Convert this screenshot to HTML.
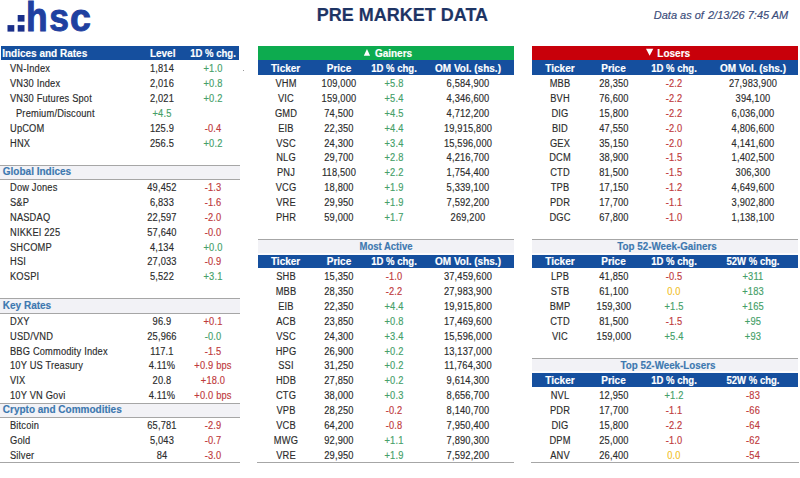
<!DOCTYPE html>
<html><head><meta charset="utf-8"><style>
html,body{margin:0;padding:0;background:#fff;}
body{width:800px;height:478px;position:relative;overflow:hidden;font-family:"Liberation Sans",sans-serif;}
body>div{position:absolute;}
.t{white-space:pre;line-height:20px;height:20px;-webkit-text-stroke:0.15px currentColor;}
</style></head><body>
<svg style="position:absolute;left:0;top:0" width="100" height="36" viewBox="0 0 100 36"><rect x="7.5" y="25.1" width="6.8" height="6.5" fill="#1a2f8a"/><rect x="17.7" y="25.1" width="6.8" height="6.5" fill="#1a2f8a"/><rect x="17.7" y="15.0" width="6.8" height="6.6" fill="#1a2f8a"/><text transform="translate(26.12 31.0) scale(0.878 1)" font-family="Liberation Sans" font-weight="bold" font-size="40.3" fill="#1f40a0" stroke="#1f40a0" stroke-width="1.0">h</text><text transform="translate(49.16 31.0) scale(0.88 0.955)" font-family="Liberation Sans" font-weight="bold" font-size="40.3" fill="#1f40a0" stroke="#1f40a0" stroke-width="1.0">s</text><text transform="translate(69.94 31.0) scale(0.93 0.955)" font-family="Liberation Sans" font-weight="bold" font-size="40.3" fill="#1f40a0" stroke="#1f40a0" stroke-width="1.0">c</text></svg>
<div style="left:1.30px;top:45.60px;width:237.50px;height:14.20px;background:#154f9e"></div>
<div class="t" style="left:2.20px;top:44.12px;width:200px;text-align:left;font-size:10px;color:#ffffff;font-weight:bold;">Indices and Rates</div>
<div class="t" style="left:62.70px;top:44.12px;width:200px;text-align:center;font-size:10px;color:#ffffff;font-weight:bold;">Level</div>
<div class="t" style="left:112.80px;top:44.12px;width:200px;text-align:center;font-size:10px;color:#ffffff;font-weight:bold;transform:scaleX(0.955);transform-origin:50% 0;">1D % chg.</div>
<div class="t" style="left:9.60px;top:59.28px;width:200px;text-align:left;font-size:10px;color:#2c2c2c;transform:scaleX(0.93);transform-origin:0 0;letter-spacing:0.18px;">VN-Index</div>
<div class="t" style="left:62.30px;top:59.28px;width:200px;text-align:center;font-size:10px;color:#2c2c2c;transform:scaleX(0.93);transform-origin:50% 0;letter-spacing:0.18px;">1,814</div>
<div class="t" style="left:113.00px;top:59.28px;width:200px;text-align:center;font-size:10px;color:#45a068;transform:scaleX(0.93);transform-origin:50% 0;letter-spacing:0.18px;">+1.0</div>
<div class="t" style="left:9.60px;top:74.14px;width:200px;text-align:left;font-size:10px;color:#2c2c2c;transform:scaleX(0.93);transform-origin:0 0;letter-spacing:0.18px;">VN30 Index</div>
<div class="t" style="left:62.30px;top:74.14px;width:200px;text-align:center;font-size:10px;color:#2c2c2c;transform:scaleX(0.93);transform-origin:50% 0;letter-spacing:0.18px;">2,016</div>
<div class="t" style="left:113.00px;top:74.14px;width:200px;text-align:center;font-size:10px;color:#45a068;transform:scaleX(0.93);transform-origin:50% 0;letter-spacing:0.18px;">+0.8</div>
<div class="t" style="left:9.60px;top:88.99px;width:200px;text-align:left;font-size:10px;color:#2c2c2c;transform:scaleX(0.93);transform-origin:0 0;letter-spacing:0.18px;">VN30 Futures Spot</div>
<div class="t" style="left:62.30px;top:88.99px;width:200px;text-align:center;font-size:10px;color:#2c2c2c;transform:scaleX(0.93);transform-origin:50% 0;letter-spacing:0.18px;">2,021</div>
<div class="t" style="left:113.00px;top:88.99px;width:200px;text-align:center;font-size:10px;color:#45a068;transform:scaleX(0.93);transform-origin:50% 0;letter-spacing:0.18px;">+0.2</div>
<div class="t" style="left:16.10px;top:103.85px;width:200px;text-align:left;font-size:10px;color:#2c2c2c;transform:scaleX(0.93);transform-origin:0 0;letter-spacing:0.18px;">Premium/Discount</div>
<div class="t" style="left:62.30px;top:103.85px;width:200px;text-align:center;font-size:10px;color:#45a068;transform:scaleX(0.93);transform-origin:50% 0;letter-spacing:0.18px;">+4.5</div>
<div class="t" style="left:9.60px;top:118.70px;width:200px;text-align:left;font-size:10px;color:#2c2c2c;transform:scaleX(0.93);transform-origin:0 0;letter-spacing:0.18px;">UpCOM</div>
<div class="t" style="left:62.30px;top:118.70px;width:200px;text-align:center;font-size:10px;color:#2c2c2c;transform:scaleX(0.93);transform-origin:50% 0;letter-spacing:0.18px;">125.9</div>
<div class="t" style="left:113.00px;top:118.70px;width:200px;text-align:center;font-size:10px;color:#c03a3c;transform:scaleX(0.93);transform-origin:50% 0;letter-spacing:0.18px;">-0.4</div>
<div class="t" style="left:9.60px;top:133.56px;width:200px;text-align:left;font-size:10px;color:#2c2c2c;transform:scaleX(0.93);transform-origin:0 0;letter-spacing:0.18px;">HNX</div>
<div class="t" style="left:62.30px;top:133.56px;width:200px;text-align:center;font-size:10px;color:#2c2c2c;transform:scaleX(0.93);transform-origin:50% 0;letter-spacing:0.18px;">256.5</div>
<div class="t" style="left:113.00px;top:133.56px;width:200px;text-align:center;font-size:10px;color:#45a068;transform:scaleX(0.93);transform-origin:50% 0;letter-spacing:0.18px;">+0.2</div>
<div style="left:0.00px;top:164.80px;width:239.80px;height:15.50px;background:#f2f2f6"></div>
<div style="left:0.00px;top:164.80px;width:239.80px;height:1.00px;background:#a6a6a6"></div>
<div style="left:0.00px;top:179.30px;width:239.80px;height:1.00px;background:#a6a6a6"></div>
<div class="t" style="left:2.80px;top:162.07px;width:200px;text-align:left;font-size:10px;color:#3d78b0;font-weight:bold;">Global Indices</div>
<div class="t" style="left:9.60px;top:178.13px;width:200px;text-align:left;font-size:10px;color:#2c2c2c;transform:scaleX(0.93);transform-origin:0 0;letter-spacing:0.18px;">Dow Jones</div>
<div class="t" style="left:62.30px;top:178.13px;width:200px;text-align:center;font-size:10px;color:#2c2c2c;transform:scaleX(0.93);transform-origin:50% 0;letter-spacing:0.18px;">49,452</div>
<div class="t" style="left:113.00px;top:178.13px;width:200px;text-align:center;font-size:10px;color:#c03a3c;transform:scaleX(0.93);transform-origin:50% 0;letter-spacing:0.18px;">-1.3</div>
<div class="t" style="left:9.60px;top:192.98px;width:200px;text-align:left;font-size:10px;color:#2c2c2c;transform:scaleX(0.93);transform-origin:0 0;letter-spacing:0.18px;">S&amp;P</div>
<div class="t" style="left:62.30px;top:192.98px;width:200px;text-align:center;font-size:10px;color:#2c2c2c;transform:scaleX(0.93);transform-origin:50% 0;letter-spacing:0.18px;">6,833</div>
<div class="t" style="left:113.00px;top:192.98px;width:200px;text-align:center;font-size:10px;color:#c03a3c;transform:scaleX(0.93);transform-origin:50% 0;letter-spacing:0.18px;">-1.6</div>
<div class="t" style="left:9.60px;top:207.84px;width:200px;text-align:left;font-size:10px;color:#2c2c2c;transform:scaleX(0.93);transform-origin:0 0;letter-spacing:0.18px;">NASDAQ</div>
<div class="t" style="left:62.30px;top:207.84px;width:200px;text-align:center;font-size:10px;color:#2c2c2c;transform:scaleX(0.93);transform-origin:50% 0;letter-spacing:0.18px;">22,597</div>
<div class="t" style="left:113.00px;top:207.84px;width:200px;text-align:center;font-size:10px;color:#c03a3c;transform:scaleX(0.93);transform-origin:50% 0;letter-spacing:0.18px;">-2.0</div>
<div class="t" style="left:9.60px;top:222.69px;width:200px;text-align:left;font-size:10px;color:#2c2c2c;transform:scaleX(0.93);transform-origin:0 0;letter-spacing:0.18px;">NIKKEI 225</div>
<div class="t" style="left:62.30px;top:222.69px;width:200px;text-align:center;font-size:10px;color:#2c2c2c;transform:scaleX(0.93);transform-origin:50% 0;letter-spacing:0.18px;">57,640</div>
<div class="t" style="left:113.00px;top:222.69px;width:200px;text-align:center;font-size:10px;color:#c03a3c;transform:scaleX(0.93);transform-origin:50% 0;letter-spacing:0.18px;">-0.0</div>
<div class="t" style="left:9.60px;top:237.55px;width:200px;text-align:left;font-size:10px;color:#2c2c2c;transform:scaleX(0.93);transform-origin:0 0;letter-spacing:0.18px;">SHCOMP</div>
<div class="t" style="left:62.30px;top:237.55px;width:200px;text-align:center;font-size:10px;color:#2c2c2c;transform:scaleX(0.93);transform-origin:50% 0;letter-spacing:0.18px;">4,134</div>
<div class="t" style="left:113.00px;top:237.55px;width:200px;text-align:center;font-size:10px;color:#45a068;transform:scaleX(0.93);transform-origin:50% 0;letter-spacing:0.18px;">+0.0</div>
<div class="t" style="left:9.60px;top:252.41px;width:200px;text-align:left;font-size:10px;color:#2c2c2c;transform:scaleX(0.93);transform-origin:0 0;letter-spacing:0.18px;">HSI</div>
<div class="t" style="left:62.30px;top:252.41px;width:200px;text-align:center;font-size:10px;color:#2c2c2c;transform:scaleX(0.93);transform-origin:50% 0;letter-spacing:0.18px;">27,033</div>
<div class="t" style="left:113.00px;top:252.41px;width:200px;text-align:center;font-size:10px;color:#c03a3c;transform:scaleX(0.93);transform-origin:50% 0;letter-spacing:0.18px;">-0.9</div>
<div class="t" style="left:9.60px;top:267.26px;width:200px;text-align:left;font-size:10px;color:#2c2c2c;transform:scaleX(0.93);transform-origin:0 0;letter-spacing:0.18px;">KOSPI</div>
<div class="t" style="left:62.30px;top:267.26px;width:200px;text-align:center;font-size:10px;color:#2c2c2c;transform:scaleX(0.93);transform-origin:50% 0;letter-spacing:0.18px;">5,522</div>
<div class="t" style="left:113.00px;top:267.26px;width:200px;text-align:center;font-size:10px;color:#45a068;transform:scaleX(0.93);transform-origin:50% 0;letter-spacing:0.18px;">+3.1</div>
<div style="left:0.00px;top:298.00px;width:239.80px;height:16.00px;background:#f2f2f6"></div>
<div style="left:0.00px;top:298.00px;width:239.80px;height:1.00px;background:#a6a6a6"></div>
<div style="left:0.00px;top:313.00px;width:239.80px;height:1.00px;background:#a6a6a6"></div>
<div class="t" style="left:2.80px;top:295.78px;width:200px;text-align:left;font-size:10px;color:#3d78b0;font-weight:bold;">Key Rates</div>
<div class="t" style="left:9.60px;top:311.83px;width:200px;text-align:left;font-size:10px;color:#2c2c2c;transform:scaleX(0.93);transform-origin:0 0;letter-spacing:0.18px;">DXY</div>
<div class="t" style="left:62.30px;top:311.83px;width:200px;text-align:center;font-size:10px;color:#2c2c2c;transform:scaleX(0.93);transform-origin:50% 0;letter-spacing:0.18px;">96.9</div>
<div class="t" style="left:113.00px;top:311.83px;width:200px;text-align:center;font-size:10px;color:#c03a3c;transform:scaleX(0.93);transform-origin:50% 0;letter-spacing:0.18px;">+0.1</div>
<div class="t" style="left:9.60px;top:326.69px;width:200px;text-align:left;font-size:10px;color:#2c2c2c;transform:scaleX(0.93);transform-origin:0 0;letter-spacing:0.18px;">USD/VND</div>
<div class="t" style="left:62.30px;top:326.69px;width:200px;text-align:center;font-size:10px;color:#2c2c2c;transform:scaleX(0.93);transform-origin:50% 0;letter-spacing:0.18px;">25,966</div>
<div class="t" style="left:113.00px;top:326.69px;width:200px;text-align:center;font-size:10px;color:#45a068;transform:scaleX(0.93);transform-origin:50% 0;letter-spacing:0.18px;">-0.0</div>
<div class="t" style="left:9.60px;top:341.54px;width:200px;text-align:left;font-size:10px;color:#2c2c2c;transform:scaleX(0.93);transform-origin:0 0;letter-spacing:0.18px;">BBG Commodity Index</div>
<div class="t" style="left:62.30px;top:341.54px;width:200px;text-align:center;font-size:10px;color:#2c2c2c;transform:scaleX(0.93);transform-origin:50% 0;letter-spacing:0.18px;">117.1</div>
<div class="t" style="left:113.00px;top:341.54px;width:200px;text-align:center;font-size:10px;color:#c03a3c;transform:scaleX(0.93);transform-origin:50% 0;letter-spacing:0.18px;">-1.5</div>
<div class="t" style="left:9.60px;top:356.40px;width:200px;text-align:left;font-size:10px;color:#2c2c2c;transform:scaleX(0.93);transform-origin:0 0;letter-spacing:0.18px;">10Y US Treasury</div>
<div class="t" style="left:62.30px;top:356.40px;width:200px;text-align:center;font-size:10px;color:#2c2c2c;transform:scaleX(0.93);transform-origin:50% 0;letter-spacing:0.18px;">4.11%</div>
<div class="t" style="left:113.00px;top:356.40px;width:200px;text-align:center;font-size:10px;color:#c03a3c;transform:scaleX(0.93);transform-origin:50% 0;letter-spacing:0.18px;">+0.9 bps</div>
<div class="t" style="left:9.60px;top:371.25px;width:200px;text-align:left;font-size:10px;color:#2c2c2c;transform:scaleX(0.93);transform-origin:0 0;letter-spacing:0.18px;">VIX</div>
<div class="t" style="left:62.30px;top:371.25px;width:200px;text-align:center;font-size:10px;color:#2c2c2c;transform:scaleX(0.93);transform-origin:50% 0;letter-spacing:0.18px;">20.8</div>
<div class="t" style="left:113.00px;top:371.25px;width:200px;text-align:center;font-size:10px;color:#c03a3c;transform:scaleX(0.93);transform-origin:50% 0;letter-spacing:0.18px;">+18.0</div>
<div class="t" style="left:9.60px;top:386.11px;width:200px;text-align:left;font-size:10px;color:#2c2c2c;transform:scaleX(0.93);transform-origin:0 0;letter-spacing:0.18px;">10Y VN Govi</div>
<div class="t" style="left:62.30px;top:386.11px;width:200px;text-align:center;font-size:10px;color:#2c2c2c;transform:scaleX(0.93);transform-origin:50% 0;letter-spacing:0.18px;">4.11%</div>
<div class="t" style="left:113.00px;top:386.11px;width:200px;text-align:center;font-size:10px;color:#c03a3c;transform:scaleX(0.93);transform-origin:50% 0;letter-spacing:0.18px;">+0.0 bps</div>
<div style="left:0.00px;top:402.50px;width:239.80px;height:15.60px;background:#f2f2f6"></div>
<div style="left:0.00px;top:402.50px;width:239.80px;height:1.00px;background:#a6a6a6"></div>
<div style="left:0.00px;top:417.10px;width:239.80px;height:1.00px;background:#a6a6a6"></div>
<div class="t" style="left:2.80px;top:399.77px;width:200px;text-align:left;font-size:10px;color:#3d78b0;font-weight:bold;">Crypto and Commodities</div>
<div class="t" style="left:9.60px;top:415.82px;width:200px;text-align:left;font-size:10px;color:#2c2c2c;transform:scaleX(0.93);transform-origin:0 0;letter-spacing:0.18px;">Bitcoin</div>
<div class="t" style="left:62.30px;top:415.82px;width:200px;text-align:center;font-size:10px;color:#2c2c2c;transform:scaleX(0.93);transform-origin:50% 0;letter-spacing:0.18px;">65,781</div>
<div class="t" style="left:113.00px;top:415.82px;width:200px;text-align:center;font-size:10px;color:#c03a3c;transform:scaleX(0.93);transform-origin:50% 0;letter-spacing:0.18px;">-2.9</div>
<div class="t" style="left:9.60px;top:430.68px;width:200px;text-align:left;font-size:10px;color:#2c2c2c;transform:scaleX(0.93);transform-origin:0 0;letter-spacing:0.18px;">Gold</div>
<div class="t" style="left:62.30px;top:430.68px;width:200px;text-align:center;font-size:10px;color:#2c2c2c;transform:scaleX(0.93);transform-origin:50% 0;letter-spacing:0.18px;">5,043</div>
<div class="t" style="left:113.00px;top:430.68px;width:200px;text-align:center;font-size:10px;color:#c03a3c;transform:scaleX(0.93);transform-origin:50% 0;letter-spacing:0.18px;">-0.7</div>
<div class="t" style="left:9.60px;top:445.53px;width:200px;text-align:left;font-size:10px;color:#2c2c2c;transform:scaleX(0.93);transform-origin:0 0;letter-spacing:0.18px;">Silver</div>
<div class="t" style="left:62.30px;top:445.53px;width:200px;text-align:center;font-size:10px;color:#2c2c2c;transform:scaleX(0.93);transform-origin:50% 0;letter-spacing:0.18px;">84</div>
<div class="t" style="left:113.00px;top:445.53px;width:200px;text-align:center;font-size:10px;color:#c03a3c;transform:scaleX(0.93);transform-origin:50% 0;letter-spacing:0.18px;">-3.0</div>
<div style="left:0.00px;top:462.00px;width:239.80px;height:1.00px;background:#a6a6a6"></div>
<div style="left:258.20px;top:46.00px;width:255.40px;height:14.00px;background:#0dab4f"></div>
<div style="left:258.20px;top:60.00px;width:255.40px;height:14.80px;background:#154f9e"></div>
<div class="t" style="left:374.90px;top:44.12px;width:200px;text-align:left;font-size:10px;color:#ffffff;font-weight:bold;">Gainers</div>
<div class="t" style="left:185.60px;top:58.98px;width:200px;text-align:center;font-size:10px;color:#ffffff;font-weight:bold;">Ticker</div>
<div class="t" style="left:239.00px;top:58.98px;width:200px;text-align:center;font-size:10px;color:#ffffff;font-weight:bold;">Price</div>
<div class="t" style="left:294.00px;top:58.98px;width:200px;text-align:center;font-size:10px;color:#ffffff;font-weight:bold;transform:scaleX(0.955);transform-origin:50% 0;">1D % chg.</div>
<div class="t" style="left:368.00px;top:58.98px;width:200px;text-align:center;font-size:10px;color:#ffffff;font-weight:bold;">OM Vol. (shs.)</div>
<div class="t" style="left:185.60px;top:74.14px;width:200px;text-align:center;font-size:10px;color:#2c2c2c;transform:scaleX(0.93);transform-origin:50% 0;letter-spacing:0.18px;">VHM</div>
<div class="t" style="left:239.00px;top:74.14px;width:200px;text-align:center;font-size:10px;color:#2c2c2c;transform:scaleX(0.93);transform-origin:50% 0;letter-spacing:0.18px;">109,000</div>
<div class="t" style="left:294.00px;top:74.14px;width:200px;text-align:center;font-size:10px;color:#45a068;transform:scaleX(0.93);transform-origin:50% 0;letter-spacing:0.18px;">+5.8</div>
<div class="t" style="left:368.00px;top:74.14px;width:200px;text-align:center;font-size:10px;color:#2c2c2c;transform:scaleX(0.93);transform-origin:50% 0;letter-spacing:0.18px;">6,584,900</div>
<div class="t" style="left:185.60px;top:88.99px;width:200px;text-align:center;font-size:10px;color:#2c2c2c;transform:scaleX(0.93);transform-origin:50% 0;letter-spacing:0.18px;">VIC</div>
<div class="t" style="left:239.00px;top:88.99px;width:200px;text-align:center;font-size:10px;color:#2c2c2c;transform:scaleX(0.93);transform-origin:50% 0;letter-spacing:0.18px;">159,000</div>
<div class="t" style="left:294.00px;top:88.99px;width:200px;text-align:center;font-size:10px;color:#45a068;transform:scaleX(0.93);transform-origin:50% 0;letter-spacing:0.18px;">+5.4</div>
<div class="t" style="left:368.00px;top:88.99px;width:200px;text-align:center;font-size:10px;color:#2c2c2c;transform:scaleX(0.93);transform-origin:50% 0;letter-spacing:0.18px;">4,346,600</div>
<div class="t" style="left:185.60px;top:103.85px;width:200px;text-align:center;font-size:10px;color:#2c2c2c;transform:scaleX(0.93);transform-origin:50% 0;letter-spacing:0.18px;">GMD</div>
<div class="t" style="left:239.00px;top:103.85px;width:200px;text-align:center;font-size:10px;color:#2c2c2c;transform:scaleX(0.93);transform-origin:50% 0;letter-spacing:0.18px;">74,500</div>
<div class="t" style="left:294.00px;top:103.85px;width:200px;text-align:center;font-size:10px;color:#45a068;transform:scaleX(0.93);transform-origin:50% 0;letter-spacing:0.18px;">+4.5</div>
<div class="t" style="left:368.00px;top:103.85px;width:200px;text-align:center;font-size:10px;color:#2c2c2c;transform:scaleX(0.93);transform-origin:50% 0;letter-spacing:0.18px;">4,712,200</div>
<div class="t" style="left:185.60px;top:118.70px;width:200px;text-align:center;font-size:10px;color:#2c2c2c;transform:scaleX(0.93);transform-origin:50% 0;letter-spacing:0.18px;">EIB</div>
<div class="t" style="left:239.00px;top:118.70px;width:200px;text-align:center;font-size:10px;color:#2c2c2c;transform:scaleX(0.93);transform-origin:50% 0;letter-spacing:0.18px;">22,350</div>
<div class="t" style="left:294.00px;top:118.70px;width:200px;text-align:center;font-size:10px;color:#45a068;transform:scaleX(0.93);transform-origin:50% 0;letter-spacing:0.18px;">+4.4</div>
<div class="t" style="left:368.00px;top:118.70px;width:200px;text-align:center;font-size:10px;color:#2c2c2c;transform:scaleX(0.93);transform-origin:50% 0;letter-spacing:0.18px;">19,915,800</div>
<div class="t" style="left:185.60px;top:133.56px;width:200px;text-align:center;font-size:10px;color:#2c2c2c;transform:scaleX(0.93);transform-origin:50% 0;letter-spacing:0.18px;">VSC</div>
<div class="t" style="left:239.00px;top:133.56px;width:200px;text-align:center;font-size:10px;color:#2c2c2c;transform:scaleX(0.93);transform-origin:50% 0;letter-spacing:0.18px;">24,300</div>
<div class="t" style="left:294.00px;top:133.56px;width:200px;text-align:center;font-size:10px;color:#45a068;transform:scaleX(0.93);transform-origin:50% 0;letter-spacing:0.18px;">+3.4</div>
<div class="t" style="left:368.00px;top:133.56px;width:200px;text-align:center;font-size:10px;color:#2c2c2c;transform:scaleX(0.93);transform-origin:50% 0;letter-spacing:0.18px;">15,596,000</div>
<div class="t" style="left:185.60px;top:148.42px;width:200px;text-align:center;font-size:10px;color:#2c2c2c;transform:scaleX(0.93);transform-origin:50% 0;letter-spacing:0.18px;">NLG</div>
<div class="t" style="left:239.00px;top:148.42px;width:200px;text-align:center;font-size:10px;color:#2c2c2c;transform:scaleX(0.93);transform-origin:50% 0;letter-spacing:0.18px;">29,700</div>
<div class="t" style="left:294.00px;top:148.42px;width:200px;text-align:center;font-size:10px;color:#45a068;transform:scaleX(0.93);transform-origin:50% 0;letter-spacing:0.18px;">+2.8</div>
<div class="t" style="left:368.00px;top:148.42px;width:200px;text-align:center;font-size:10px;color:#2c2c2c;transform:scaleX(0.93);transform-origin:50% 0;letter-spacing:0.18px;">4,216,700</div>
<div class="t" style="left:185.60px;top:163.27px;width:200px;text-align:center;font-size:10px;color:#2c2c2c;transform:scaleX(0.93);transform-origin:50% 0;letter-spacing:0.18px;">PNJ</div>
<div class="t" style="left:239.00px;top:163.27px;width:200px;text-align:center;font-size:10px;color:#2c2c2c;transform:scaleX(0.93);transform-origin:50% 0;letter-spacing:0.18px;">118,500</div>
<div class="t" style="left:294.00px;top:163.27px;width:200px;text-align:center;font-size:10px;color:#45a068;transform:scaleX(0.93);transform-origin:50% 0;letter-spacing:0.18px;">+2.2</div>
<div class="t" style="left:368.00px;top:163.27px;width:200px;text-align:center;font-size:10px;color:#2c2c2c;transform:scaleX(0.93);transform-origin:50% 0;letter-spacing:0.18px;">1,754,400</div>
<div class="t" style="left:185.60px;top:178.13px;width:200px;text-align:center;font-size:10px;color:#2c2c2c;transform:scaleX(0.93);transform-origin:50% 0;letter-spacing:0.18px;">VCG</div>
<div class="t" style="left:239.00px;top:178.13px;width:200px;text-align:center;font-size:10px;color:#2c2c2c;transform:scaleX(0.93);transform-origin:50% 0;letter-spacing:0.18px;">18,800</div>
<div class="t" style="left:294.00px;top:178.13px;width:200px;text-align:center;font-size:10px;color:#45a068;transform:scaleX(0.93);transform-origin:50% 0;letter-spacing:0.18px;">+1.9</div>
<div class="t" style="left:368.00px;top:178.13px;width:200px;text-align:center;font-size:10px;color:#2c2c2c;transform:scaleX(0.93);transform-origin:50% 0;letter-spacing:0.18px;">5,339,100</div>
<div class="t" style="left:185.60px;top:192.98px;width:200px;text-align:center;font-size:10px;color:#2c2c2c;transform:scaleX(0.93);transform-origin:50% 0;letter-spacing:0.18px;">VRE</div>
<div class="t" style="left:239.00px;top:192.98px;width:200px;text-align:center;font-size:10px;color:#2c2c2c;transform:scaleX(0.93);transform-origin:50% 0;letter-spacing:0.18px;">29,950</div>
<div class="t" style="left:294.00px;top:192.98px;width:200px;text-align:center;font-size:10px;color:#45a068;transform:scaleX(0.93);transform-origin:50% 0;letter-spacing:0.18px;">+1.9</div>
<div class="t" style="left:368.00px;top:192.98px;width:200px;text-align:center;font-size:10px;color:#2c2c2c;transform:scaleX(0.93);transform-origin:50% 0;letter-spacing:0.18px;">7,592,200</div>
<div class="t" style="left:185.60px;top:207.84px;width:200px;text-align:center;font-size:10px;color:#2c2c2c;transform:scaleX(0.93);transform-origin:50% 0;letter-spacing:0.18px;">PHR</div>
<div class="t" style="left:239.00px;top:207.84px;width:200px;text-align:center;font-size:10px;color:#2c2c2c;transform:scaleX(0.93);transform-origin:50% 0;letter-spacing:0.18px;">59,000</div>
<div class="t" style="left:294.00px;top:207.84px;width:200px;text-align:center;font-size:10px;color:#45a068;transform:scaleX(0.93);transform-origin:50% 0;letter-spacing:0.18px;">+1.7</div>
<div class="t" style="left:368.00px;top:207.84px;width:200px;text-align:center;font-size:10px;color:#2c2c2c;transform:scaleX(0.93);transform-origin:50% 0;letter-spacing:0.18px;">269,200</div>
<div style="left:258.20px;top:239.32px;width:255.40px;height:15.26px;background:#f2f2f6"></div>
<div style="left:258.20px;top:239.32px;width:255.40px;height:1.00px;background:#a6a6a6"></div>
<div style="left:258.20px;top:252.57px;width:255.40px;height:2.00px;background:#fbfbfd"></div>
<div style="left:258.20px;top:254.57px;width:255.40px;height:13.26px;background:#154f9e"></div>
<div class="t" style="left:285.90px;top:236.65px;width:200px;text-align:center;font-size:10px;color:#3d78b0;font-weight:bold;transform:scaleX(0.95);transform-origin:50% 0;">Most Active</div>
<div class="t" style="left:185.60px;top:252.11px;width:200px;text-align:center;font-size:10px;color:#ffffff;font-weight:bold;">Ticker</div>
<div class="t" style="left:239.00px;top:252.11px;width:200px;text-align:center;font-size:10px;color:#ffffff;font-weight:bold;">Price</div>
<div class="t" style="left:294.00px;top:252.11px;width:200px;text-align:center;font-size:10px;color:#ffffff;font-weight:bold;transform:scaleX(0.955);transform-origin:50% 0;">1D % chg.</div>
<div class="t" style="left:368.00px;top:252.11px;width:200px;text-align:center;font-size:10px;color:#ffffff;font-weight:bold;">OM Vol. (shs.)</div>
<div class="t" style="left:185.60px;top:267.26px;width:200px;text-align:center;font-size:10px;color:#2c2c2c;transform:scaleX(0.93);transform-origin:50% 0;letter-spacing:0.18px;">SHB</div>
<div class="t" style="left:239.00px;top:267.26px;width:200px;text-align:center;font-size:10px;color:#2c2c2c;transform:scaleX(0.93);transform-origin:50% 0;letter-spacing:0.18px;">15,350</div>
<div class="t" style="left:294.00px;top:267.26px;width:200px;text-align:center;font-size:10px;color:#c03a3c;transform:scaleX(0.93);transform-origin:50% 0;letter-spacing:0.18px;">-1.0</div>
<div class="t" style="left:368.00px;top:267.26px;width:200px;text-align:center;font-size:10px;color:#2c2c2c;transform:scaleX(0.93);transform-origin:50% 0;letter-spacing:0.18px;">37,459,600</div>
<div class="t" style="left:185.60px;top:282.12px;width:200px;text-align:center;font-size:10px;color:#2c2c2c;transform:scaleX(0.93);transform-origin:50% 0;letter-spacing:0.18px;">MBB</div>
<div class="t" style="left:239.00px;top:282.12px;width:200px;text-align:center;font-size:10px;color:#2c2c2c;transform:scaleX(0.93);transform-origin:50% 0;letter-spacing:0.18px;">28,350</div>
<div class="t" style="left:294.00px;top:282.12px;width:200px;text-align:center;font-size:10px;color:#c03a3c;transform:scaleX(0.93);transform-origin:50% 0;letter-spacing:0.18px;">-2.2</div>
<div class="t" style="left:368.00px;top:282.12px;width:200px;text-align:center;font-size:10px;color:#2c2c2c;transform:scaleX(0.93);transform-origin:50% 0;letter-spacing:0.18px;">27,983,900</div>
<div class="t" style="left:185.60px;top:296.98px;width:200px;text-align:center;font-size:10px;color:#2c2c2c;transform:scaleX(0.93);transform-origin:50% 0;letter-spacing:0.18px;">EIB</div>
<div class="t" style="left:239.00px;top:296.98px;width:200px;text-align:center;font-size:10px;color:#2c2c2c;transform:scaleX(0.93);transform-origin:50% 0;letter-spacing:0.18px;">22,350</div>
<div class="t" style="left:294.00px;top:296.98px;width:200px;text-align:center;font-size:10px;color:#45a068;transform:scaleX(0.93);transform-origin:50% 0;letter-spacing:0.18px;">+4.4</div>
<div class="t" style="left:368.00px;top:296.98px;width:200px;text-align:center;font-size:10px;color:#2c2c2c;transform:scaleX(0.93);transform-origin:50% 0;letter-spacing:0.18px;">19,915,800</div>
<div class="t" style="left:185.60px;top:311.83px;width:200px;text-align:center;font-size:10px;color:#2c2c2c;transform:scaleX(0.93);transform-origin:50% 0;letter-spacing:0.18px;">ACB</div>
<div class="t" style="left:239.00px;top:311.83px;width:200px;text-align:center;font-size:10px;color:#2c2c2c;transform:scaleX(0.93);transform-origin:50% 0;letter-spacing:0.18px;">23,850</div>
<div class="t" style="left:294.00px;top:311.83px;width:200px;text-align:center;font-size:10px;color:#45a068;transform:scaleX(0.93);transform-origin:50% 0;letter-spacing:0.18px;">+0.8</div>
<div class="t" style="left:368.00px;top:311.83px;width:200px;text-align:center;font-size:10px;color:#2c2c2c;transform:scaleX(0.93);transform-origin:50% 0;letter-spacing:0.18px;">17,469,600</div>
<div class="t" style="left:185.60px;top:326.69px;width:200px;text-align:center;font-size:10px;color:#2c2c2c;transform:scaleX(0.93);transform-origin:50% 0;letter-spacing:0.18px;">VSC</div>
<div class="t" style="left:239.00px;top:326.69px;width:200px;text-align:center;font-size:10px;color:#2c2c2c;transform:scaleX(0.93);transform-origin:50% 0;letter-spacing:0.18px;">24,300</div>
<div class="t" style="left:294.00px;top:326.69px;width:200px;text-align:center;font-size:10px;color:#45a068;transform:scaleX(0.93);transform-origin:50% 0;letter-spacing:0.18px;">+3.4</div>
<div class="t" style="left:368.00px;top:326.69px;width:200px;text-align:center;font-size:10px;color:#2c2c2c;transform:scaleX(0.93);transform-origin:50% 0;letter-spacing:0.18px;">15,596,000</div>
<div class="t" style="left:185.60px;top:341.54px;width:200px;text-align:center;font-size:10px;color:#2c2c2c;transform:scaleX(0.93);transform-origin:50% 0;letter-spacing:0.18px;">HPG</div>
<div class="t" style="left:239.00px;top:341.54px;width:200px;text-align:center;font-size:10px;color:#2c2c2c;transform:scaleX(0.93);transform-origin:50% 0;letter-spacing:0.18px;">26,900</div>
<div class="t" style="left:294.00px;top:341.54px;width:200px;text-align:center;font-size:10px;color:#45a068;transform:scaleX(0.93);transform-origin:50% 0;letter-spacing:0.18px;">+0.2</div>
<div class="t" style="left:368.00px;top:341.54px;width:200px;text-align:center;font-size:10px;color:#2c2c2c;transform:scaleX(0.93);transform-origin:50% 0;letter-spacing:0.18px;">13,137,000</div>
<div class="t" style="left:185.60px;top:356.40px;width:200px;text-align:center;font-size:10px;color:#2c2c2c;transform:scaleX(0.93);transform-origin:50% 0;letter-spacing:0.18px;">SSI</div>
<div class="t" style="left:239.00px;top:356.40px;width:200px;text-align:center;font-size:10px;color:#2c2c2c;transform:scaleX(0.93);transform-origin:50% 0;letter-spacing:0.18px;">31,250</div>
<div class="t" style="left:294.00px;top:356.40px;width:200px;text-align:center;font-size:10px;color:#45a068;transform:scaleX(0.93);transform-origin:50% 0;letter-spacing:0.18px;">+0.2</div>
<div class="t" style="left:368.00px;top:356.40px;width:200px;text-align:center;font-size:10px;color:#2c2c2c;transform:scaleX(0.93);transform-origin:50% 0;letter-spacing:0.18px;">11,764,300</div>
<div class="t" style="left:185.60px;top:371.25px;width:200px;text-align:center;font-size:10px;color:#2c2c2c;transform:scaleX(0.93);transform-origin:50% 0;letter-spacing:0.18px;">HDB</div>
<div class="t" style="left:239.00px;top:371.25px;width:200px;text-align:center;font-size:10px;color:#2c2c2c;transform:scaleX(0.93);transform-origin:50% 0;letter-spacing:0.18px;">27,850</div>
<div class="t" style="left:294.00px;top:371.25px;width:200px;text-align:center;font-size:10px;color:#45a068;transform:scaleX(0.93);transform-origin:50% 0;letter-spacing:0.18px;">+0.2</div>
<div class="t" style="left:368.00px;top:371.25px;width:200px;text-align:center;font-size:10px;color:#2c2c2c;transform:scaleX(0.93);transform-origin:50% 0;letter-spacing:0.18px;">9,614,300</div>
<div class="t" style="left:185.60px;top:386.11px;width:200px;text-align:center;font-size:10px;color:#2c2c2c;transform:scaleX(0.93);transform-origin:50% 0;letter-spacing:0.18px;">CTG</div>
<div class="t" style="left:239.00px;top:386.11px;width:200px;text-align:center;font-size:10px;color:#2c2c2c;transform:scaleX(0.93);transform-origin:50% 0;letter-spacing:0.18px;">38,000</div>
<div class="t" style="left:294.00px;top:386.11px;width:200px;text-align:center;font-size:10px;color:#45a068;transform:scaleX(0.93);transform-origin:50% 0;letter-spacing:0.18px;">+0.3</div>
<div class="t" style="left:368.00px;top:386.11px;width:200px;text-align:center;font-size:10px;color:#2c2c2c;transform:scaleX(0.93);transform-origin:50% 0;letter-spacing:0.18px;">8,656,700</div>
<div class="t" style="left:185.60px;top:400.97px;width:200px;text-align:center;font-size:10px;color:#2c2c2c;transform:scaleX(0.93);transform-origin:50% 0;letter-spacing:0.18px;">VPB</div>
<div class="t" style="left:239.00px;top:400.97px;width:200px;text-align:center;font-size:10px;color:#2c2c2c;transform:scaleX(0.93);transform-origin:50% 0;letter-spacing:0.18px;">28,250</div>
<div class="t" style="left:294.00px;top:400.97px;width:200px;text-align:center;font-size:10px;color:#c03a3c;transform:scaleX(0.93);transform-origin:50% 0;letter-spacing:0.18px;">-0.2</div>
<div class="t" style="left:368.00px;top:400.97px;width:200px;text-align:center;font-size:10px;color:#2c2c2c;transform:scaleX(0.93);transform-origin:50% 0;letter-spacing:0.18px;">8,140,700</div>
<div class="t" style="left:185.60px;top:415.82px;width:200px;text-align:center;font-size:10px;color:#2c2c2c;transform:scaleX(0.93);transform-origin:50% 0;letter-spacing:0.18px;">VCB</div>
<div class="t" style="left:239.00px;top:415.82px;width:200px;text-align:center;font-size:10px;color:#2c2c2c;transform:scaleX(0.93);transform-origin:50% 0;letter-spacing:0.18px;">64,200</div>
<div class="t" style="left:294.00px;top:415.82px;width:200px;text-align:center;font-size:10px;color:#c03a3c;transform:scaleX(0.93);transform-origin:50% 0;letter-spacing:0.18px;">-0.8</div>
<div class="t" style="left:368.00px;top:415.82px;width:200px;text-align:center;font-size:10px;color:#2c2c2c;transform:scaleX(0.93);transform-origin:50% 0;letter-spacing:0.18px;">7,950,400</div>
<div class="t" style="left:185.60px;top:430.68px;width:200px;text-align:center;font-size:10px;color:#2c2c2c;transform:scaleX(0.93);transform-origin:50% 0;letter-spacing:0.18px;">MWG</div>
<div class="t" style="left:239.00px;top:430.68px;width:200px;text-align:center;font-size:10px;color:#2c2c2c;transform:scaleX(0.93);transform-origin:50% 0;letter-spacing:0.18px;">92,900</div>
<div class="t" style="left:294.00px;top:430.68px;width:200px;text-align:center;font-size:10px;color:#45a068;transform:scaleX(0.93);transform-origin:50% 0;letter-spacing:0.18px;">+1.1</div>
<div class="t" style="left:368.00px;top:430.68px;width:200px;text-align:center;font-size:10px;color:#2c2c2c;transform:scaleX(0.93);transform-origin:50% 0;letter-spacing:0.18px;">7,890,300</div>
<div class="t" style="left:185.60px;top:445.53px;width:200px;text-align:center;font-size:10px;color:#2c2c2c;transform:scaleX(0.93);transform-origin:50% 0;letter-spacing:0.18px;">VRE</div>
<div class="t" style="left:239.00px;top:445.53px;width:200px;text-align:center;font-size:10px;color:#2c2c2c;transform:scaleX(0.93);transform-origin:50% 0;letter-spacing:0.18px;">29,950</div>
<div class="t" style="left:294.00px;top:445.53px;width:200px;text-align:center;font-size:10px;color:#45a068;transform:scaleX(0.93);transform-origin:50% 0;letter-spacing:0.18px;">+1.9</div>
<div class="t" style="left:368.00px;top:445.53px;width:200px;text-align:center;font-size:10px;color:#2c2c2c;transform:scaleX(0.93);transform-origin:50% 0;letter-spacing:0.18px;">7,592,200</div>
<div style="left:257.20px;top:462.00px;width:256.40px;height:1.00px;background:#a6a6a6"></div>
<div style="left:532.40px;top:46.00px;width:265.80px;height:14.00px;background:#c8000a"></div>
<div style="left:532.40px;top:60.00px;width:265.80px;height:14.80px;background:#154f9e"></div>
<div class="t" style="left:657.30px;top:44.12px;width:200px;text-align:left;font-size:10px;color:#ffffff;font-weight:bold;">Losers</div>
<div class="t" style="left:460.00px;top:58.98px;width:200px;text-align:center;font-size:10px;color:#ffffff;font-weight:bold;">Ticker</div>
<div class="t" style="left:513.50px;top:58.98px;width:200px;text-align:center;font-size:10px;color:#ffffff;font-weight:bold;">Price</div>
<div class="t" style="left:574.00px;top:58.98px;width:200px;text-align:center;font-size:10px;color:#ffffff;font-weight:bold;transform:scaleX(0.955);transform-origin:50% 0;">1D % chg.</div>
<div class="t" style="left:653.00px;top:58.98px;width:200px;text-align:center;font-size:10px;color:#ffffff;font-weight:bold;">OM Vol. (shs.)</div>
<div class="t" style="left:460.00px;top:74.14px;width:200px;text-align:center;font-size:10px;color:#2c2c2c;transform:scaleX(0.93);transform-origin:50% 0;letter-spacing:0.18px;">MBB</div>
<div class="t" style="left:513.50px;top:74.14px;width:200px;text-align:center;font-size:10px;color:#2c2c2c;transform:scaleX(0.93);transform-origin:50% 0;letter-spacing:0.18px;">28,350</div>
<div class="t" style="left:574.00px;top:74.14px;width:200px;text-align:center;font-size:10px;color:#c03a3c;transform:scaleX(0.93);transform-origin:50% 0;letter-spacing:0.18px;">-2.2</div>
<div class="t" style="left:653.00px;top:74.14px;width:200px;text-align:center;font-size:10px;color:#2c2c2c;transform:scaleX(0.93);transform-origin:50% 0;letter-spacing:0.18px;">27,983,900</div>
<div class="t" style="left:460.00px;top:88.99px;width:200px;text-align:center;font-size:10px;color:#2c2c2c;transform:scaleX(0.93);transform-origin:50% 0;letter-spacing:0.18px;">BVH</div>
<div class="t" style="left:513.50px;top:88.99px;width:200px;text-align:center;font-size:10px;color:#2c2c2c;transform:scaleX(0.93);transform-origin:50% 0;letter-spacing:0.18px;">76,600</div>
<div class="t" style="left:574.00px;top:88.99px;width:200px;text-align:center;font-size:10px;color:#c03a3c;transform:scaleX(0.93);transform-origin:50% 0;letter-spacing:0.18px;">-2.2</div>
<div class="t" style="left:653.00px;top:88.99px;width:200px;text-align:center;font-size:10px;color:#2c2c2c;transform:scaleX(0.93);transform-origin:50% 0;letter-spacing:0.18px;">394,100</div>
<div class="t" style="left:460.00px;top:103.85px;width:200px;text-align:center;font-size:10px;color:#2c2c2c;transform:scaleX(0.93);transform-origin:50% 0;letter-spacing:0.18px;">DIG</div>
<div class="t" style="left:513.50px;top:103.85px;width:200px;text-align:center;font-size:10px;color:#2c2c2c;transform:scaleX(0.93);transform-origin:50% 0;letter-spacing:0.18px;">15,800</div>
<div class="t" style="left:574.00px;top:103.85px;width:200px;text-align:center;font-size:10px;color:#c03a3c;transform:scaleX(0.93);transform-origin:50% 0;letter-spacing:0.18px;">-2.2</div>
<div class="t" style="left:653.00px;top:103.85px;width:200px;text-align:center;font-size:10px;color:#2c2c2c;transform:scaleX(0.93);transform-origin:50% 0;letter-spacing:0.18px;">6,036,000</div>
<div class="t" style="left:460.00px;top:118.70px;width:200px;text-align:center;font-size:10px;color:#2c2c2c;transform:scaleX(0.93);transform-origin:50% 0;letter-spacing:0.18px;">BID</div>
<div class="t" style="left:513.50px;top:118.70px;width:200px;text-align:center;font-size:10px;color:#2c2c2c;transform:scaleX(0.93);transform-origin:50% 0;letter-spacing:0.18px;">47,550</div>
<div class="t" style="left:574.00px;top:118.70px;width:200px;text-align:center;font-size:10px;color:#c03a3c;transform:scaleX(0.93);transform-origin:50% 0;letter-spacing:0.18px;">-2.0</div>
<div class="t" style="left:653.00px;top:118.70px;width:200px;text-align:center;font-size:10px;color:#2c2c2c;transform:scaleX(0.93);transform-origin:50% 0;letter-spacing:0.18px;">4,806,600</div>
<div class="t" style="left:460.00px;top:133.56px;width:200px;text-align:center;font-size:10px;color:#2c2c2c;transform:scaleX(0.93);transform-origin:50% 0;letter-spacing:0.18px;">GEX</div>
<div class="t" style="left:513.50px;top:133.56px;width:200px;text-align:center;font-size:10px;color:#2c2c2c;transform:scaleX(0.93);transform-origin:50% 0;letter-spacing:0.18px;">35,150</div>
<div class="t" style="left:574.00px;top:133.56px;width:200px;text-align:center;font-size:10px;color:#c03a3c;transform:scaleX(0.93);transform-origin:50% 0;letter-spacing:0.18px;">-2.0</div>
<div class="t" style="left:653.00px;top:133.56px;width:200px;text-align:center;font-size:10px;color:#2c2c2c;transform:scaleX(0.93);transform-origin:50% 0;letter-spacing:0.18px;">4,141,600</div>
<div class="t" style="left:460.00px;top:148.42px;width:200px;text-align:center;font-size:10px;color:#2c2c2c;transform:scaleX(0.93);transform-origin:50% 0;letter-spacing:0.18px;">DCM</div>
<div class="t" style="left:513.50px;top:148.42px;width:200px;text-align:center;font-size:10px;color:#2c2c2c;transform:scaleX(0.93);transform-origin:50% 0;letter-spacing:0.18px;">38,900</div>
<div class="t" style="left:574.00px;top:148.42px;width:200px;text-align:center;font-size:10px;color:#c03a3c;transform:scaleX(0.93);transform-origin:50% 0;letter-spacing:0.18px;">-1.5</div>
<div class="t" style="left:653.00px;top:148.42px;width:200px;text-align:center;font-size:10px;color:#2c2c2c;transform:scaleX(0.93);transform-origin:50% 0;letter-spacing:0.18px;">1,402,500</div>
<div class="t" style="left:460.00px;top:163.27px;width:200px;text-align:center;font-size:10px;color:#2c2c2c;transform:scaleX(0.93);transform-origin:50% 0;letter-spacing:0.18px;">CTD</div>
<div class="t" style="left:513.50px;top:163.27px;width:200px;text-align:center;font-size:10px;color:#2c2c2c;transform:scaleX(0.93);transform-origin:50% 0;letter-spacing:0.18px;">81,500</div>
<div class="t" style="left:574.00px;top:163.27px;width:200px;text-align:center;font-size:10px;color:#c03a3c;transform:scaleX(0.93);transform-origin:50% 0;letter-spacing:0.18px;">-1.5</div>
<div class="t" style="left:653.00px;top:163.27px;width:200px;text-align:center;font-size:10px;color:#2c2c2c;transform:scaleX(0.93);transform-origin:50% 0;letter-spacing:0.18px;">306,300</div>
<div class="t" style="left:460.00px;top:178.13px;width:200px;text-align:center;font-size:10px;color:#2c2c2c;transform:scaleX(0.93);transform-origin:50% 0;letter-spacing:0.18px;">TPB</div>
<div class="t" style="left:513.50px;top:178.13px;width:200px;text-align:center;font-size:10px;color:#2c2c2c;transform:scaleX(0.93);transform-origin:50% 0;letter-spacing:0.18px;">17,150</div>
<div class="t" style="left:574.00px;top:178.13px;width:200px;text-align:center;font-size:10px;color:#c03a3c;transform:scaleX(0.93);transform-origin:50% 0;letter-spacing:0.18px;">-1.2</div>
<div class="t" style="left:653.00px;top:178.13px;width:200px;text-align:center;font-size:10px;color:#2c2c2c;transform:scaleX(0.93);transform-origin:50% 0;letter-spacing:0.18px;">4,649,600</div>
<div class="t" style="left:460.00px;top:192.98px;width:200px;text-align:center;font-size:10px;color:#2c2c2c;transform:scaleX(0.93);transform-origin:50% 0;letter-spacing:0.18px;">PDR</div>
<div class="t" style="left:513.50px;top:192.98px;width:200px;text-align:center;font-size:10px;color:#2c2c2c;transform:scaleX(0.93);transform-origin:50% 0;letter-spacing:0.18px;">17,700</div>
<div class="t" style="left:574.00px;top:192.98px;width:200px;text-align:center;font-size:10px;color:#c03a3c;transform:scaleX(0.93);transform-origin:50% 0;letter-spacing:0.18px;">-1.1</div>
<div class="t" style="left:653.00px;top:192.98px;width:200px;text-align:center;font-size:10px;color:#2c2c2c;transform:scaleX(0.93);transform-origin:50% 0;letter-spacing:0.18px;">3,902,800</div>
<div class="t" style="left:460.00px;top:207.84px;width:200px;text-align:center;font-size:10px;color:#2c2c2c;transform:scaleX(0.93);transform-origin:50% 0;letter-spacing:0.18px;">DGC</div>
<div class="t" style="left:513.50px;top:207.84px;width:200px;text-align:center;font-size:10px;color:#2c2c2c;transform:scaleX(0.93);transform-origin:50% 0;letter-spacing:0.18px;">67,800</div>
<div class="t" style="left:574.00px;top:207.84px;width:200px;text-align:center;font-size:10px;color:#c03a3c;transform:scaleX(0.93);transform-origin:50% 0;letter-spacing:0.18px;">-1.0</div>
<div class="t" style="left:653.00px;top:207.84px;width:200px;text-align:center;font-size:10px;color:#2c2c2c;transform:scaleX(0.93);transform-origin:50% 0;letter-spacing:0.18px;">1,138,100</div>
<div style="left:532.40px;top:239.32px;width:265.80px;height:15.26px;background:#f2f2f6"></div>
<div style="left:532.40px;top:239.32px;width:265.80px;height:1.00px;background:#a6a6a6"></div>
<div style="left:532.40px;top:252.57px;width:265.80px;height:2.00px;background:#fbfbfd"></div>
<div style="left:532.40px;top:254.57px;width:265.80px;height:13.26px;background:#154f9e"></div>
<div class="t" style="left:567.20px;top:236.65px;width:200px;text-align:center;font-size:10px;color:#3d78b0;font-weight:bold;transform:scaleX(0.98);transform-origin:50% 0;">Top 52-Week-Gainers</div>
<div class="t" style="left:460.00px;top:252.11px;width:200px;text-align:center;font-size:10px;color:#ffffff;font-weight:bold;">Ticker</div>
<div class="t" style="left:513.50px;top:252.11px;width:200px;text-align:center;font-size:10px;color:#ffffff;font-weight:bold;">Price</div>
<div class="t" style="left:574.00px;top:252.11px;width:200px;text-align:center;font-size:10px;color:#ffffff;font-weight:bold;transform:scaleX(0.955);transform-origin:50% 0;">1D % chg.</div>
<div class="t" style="left:653.00px;top:252.11px;width:200px;text-align:center;font-size:10px;color:#ffffff;font-weight:bold;transform:scaleX(0.955);transform-origin:50% 0;">52W % chg.</div>
<div class="t" style="left:460.00px;top:267.26px;width:200px;text-align:center;font-size:10px;color:#2c2c2c;transform:scaleX(0.93);transform-origin:50% 0;letter-spacing:0.18px;">LPB</div>
<div class="t" style="left:513.50px;top:267.26px;width:200px;text-align:center;font-size:10px;color:#2c2c2c;transform:scaleX(0.93);transform-origin:50% 0;letter-spacing:0.18px;">41,850</div>
<div class="t" style="left:574.00px;top:267.26px;width:200px;text-align:center;font-size:10px;color:#c03a3c;transform:scaleX(0.93);transform-origin:50% 0;letter-spacing:0.18px;">-0.5</div>
<div class="t" style="left:653.00px;top:267.26px;width:200px;text-align:center;font-size:10px;color:#45a068;transform:scaleX(0.93);transform-origin:50% 0;letter-spacing:0.18px;">+311</div>
<div class="t" style="left:460.00px;top:282.12px;width:200px;text-align:center;font-size:10px;color:#2c2c2c;transform:scaleX(0.93);transform-origin:50% 0;letter-spacing:0.18px;">STB</div>
<div class="t" style="left:513.50px;top:282.12px;width:200px;text-align:center;font-size:10px;color:#2c2c2c;transform:scaleX(0.93);transform-origin:50% 0;letter-spacing:0.18px;">61,100</div>
<div class="t" style="left:574.00px;top:282.12px;width:200px;text-align:center;font-size:10px;color:#f2bf2a;transform:scaleX(0.93);transform-origin:50% 0;letter-spacing:0.18px;">0.0</div>
<div class="t" style="left:653.00px;top:282.12px;width:200px;text-align:center;font-size:10px;color:#45a068;transform:scaleX(0.93);transform-origin:50% 0;letter-spacing:0.18px;">+183</div>
<div class="t" style="left:460.00px;top:296.98px;width:200px;text-align:center;font-size:10px;color:#2c2c2c;transform:scaleX(0.93);transform-origin:50% 0;letter-spacing:0.18px;">BMP</div>
<div class="t" style="left:513.50px;top:296.98px;width:200px;text-align:center;font-size:10px;color:#2c2c2c;transform:scaleX(0.93);transform-origin:50% 0;letter-spacing:0.18px;">159,300</div>
<div class="t" style="left:574.00px;top:296.98px;width:200px;text-align:center;font-size:10px;color:#45a068;transform:scaleX(0.93);transform-origin:50% 0;letter-spacing:0.18px;">+1.5</div>
<div class="t" style="left:653.00px;top:296.98px;width:200px;text-align:center;font-size:10px;color:#45a068;transform:scaleX(0.93);transform-origin:50% 0;letter-spacing:0.18px;">+165</div>
<div class="t" style="left:460.00px;top:311.83px;width:200px;text-align:center;font-size:10px;color:#2c2c2c;transform:scaleX(0.93);transform-origin:50% 0;letter-spacing:0.18px;">CTD</div>
<div class="t" style="left:513.50px;top:311.83px;width:200px;text-align:center;font-size:10px;color:#2c2c2c;transform:scaleX(0.93);transform-origin:50% 0;letter-spacing:0.18px;">81,500</div>
<div class="t" style="left:574.00px;top:311.83px;width:200px;text-align:center;font-size:10px;color:#c03a3c;transform:scaleX(0.93);transform-origin:50% 0;letter-spacing:0.18px;">-1.5</div>
<div class="t" style="left:653.00px;top:311.83px;width:200px;text-align:center;font-size:10px;color:#45a068;transform:scaleX(0.93);transform-origin:50% 0;letter-spacing:0.18px;">+95</div>
<div class="t" style="left:460.00px;top:326.69px;width:200px;text-align:center;font-size:10px;color:#2c2c2c;transform:scaleX(0.93);transform-origin:50% 0;letter-spacing:0.18px;">VIC</div>
<div class="t" style="left:513.50px;top:326.69px;width:200px;text-align:center;font-size:10px;color:#2c2c2c;transform:scaleX(0.93);transform-origin:50% 0;letter-spacing:0.18px;">159,000</div>
<div class="t" style="left:574.00px;top:326.69px;width:200px;text-align:center;font-size:10px;color:#45a068;transform:scaleX(0.93);transform-origin:50% 0;letter-spacing:0.18px;">+5.4</div>
<div class="t" style="left:653.00px;top:326.69px;width:200px;text-align:center;font-size:10px;color:#45a068;transform:scaleX(0.93);transform-origin:50% 0;letter-spacing:0.18px;">+93</div>
<div style="left:532.40px;top:358.16px;width:265.80px;height:15.26px;background:#f2f2f6"></div>
<div style="left:532.40px;top:358.16px;width:265.80px;height:1.00px;background:#a6a6a6"></div>
<div style="left:532.40px;top:371.42px;width:265.80px;height:2.00px;background:#fbfbfd"></div>
<div style="left:532.40px;top:373.42px;width:265.80px;height:13.26px;background:#154f9e"></div>
<div class="t" style="left:567.80px;top:355.50px;width:200px;text-align:center;font-size:10px;color:#3d78b0;font-weight:bold;transform:scaleX(0.98);transform-origin:50% 0;">Top 52-Week-Losers</div>
<div class="t" style="left:460.00px;top:370.96px;width:200px;text-align:center;font-size:10px;color:#ffffff;font-weight:bold;">Ticker</div>
<div class="t" style="left:513.50px;top:370.96px;width:200px;text-align:center;font-size:10px;color:#ffffff;font-weight:bold;">Price</div>
<div class="t" style="left:574.00px;top:370.96px;width:200px;text-align:center;font-size:10px;color:#ffffff;font-weight:bold;transform:scaleX(0.955);transform-origin:50% 0;">1D % chg.</div>
<div class="t" style="left:653.00px;top:370.96px;width:200px;text-align:center;font-size:10px;color:#ffffff;font-weight:bold;transform:scaleX(0.955);transform-origin:50% 0;">52W % chg.</div>
<div class="t" style="left:460.00px;top:386.11px;width:200px;text-align:center;font-size:10px;color:#2c2c2c;transform:scaleX(0.93);transform-origin:50% 0;letter-spacing:0.18px;">NVL</div>
<div class="t" style="left:513.50px;top:386.11px;width:200px;text-align:center;font-size:10px;color:#2c2c2c;transform:scaleX(0.93);transform-origin:50% 0;letter-spacing:0.18px;">12,950</div>
<div class="t" style="left:574.00px;top:386.11px;width:200px;text-align:center;font-size:10px;color:#45a068;transform:scaleX(0.93);transform-origin:50% 0;letter-spacing:0.18px;">+1.2</div>
<div class="t" style="left:653.00px;top:386.11px;width:200px;text-align:center;font-size:10px;color:#c03a3c;transform:scaleX(0.93);transform-origin:50% 0;letter-spacing:0.18px;">-83</div>
<div class="t" style="left:460.00px;top:400.97px;width:200px;text-align:center;font-size:10px;color:#2c2c2c;transform:scaleX(0.93);transform-origin:50% 0;letter-spacing:0.18px;">PDR</div>
<div class="t" style="left:513.50px;top:400.97px;width:200px;text-align:center;font-size:10px;color:#2c2c2c;transform:scaleX(0.93);transform-origin:50% 0;letter-spacing:0.18px;">17,700</div>
<div class="t" style="left:574.00px;top:400.97px;width:200px;text-align:center;font-size:10px;color:#c03a3c;transform:scaleX(0.93);transform-origin:50% 0;letter-spacing:0.18px;">-1.1</div>
<div class="t" style="left:653.00px;top:400.97px;width:200px;text-align:center;font-size:10px;color:#c03a3c;transform:scaleX(0.93);transform-origin:50% 0;letter-spacing:0.18px;">-66</div>
<div class="t" style="left:460.00px;top:415.82px;width:200px;text-align:center;font-size:10px;color:#2c2c2c;transform:scaleX(0.93);transform-origin:50% 0;letter-spacing:0.18px;">DIG</div>
<div class="t" style="left:513.50px;top:415.82px;width:200px;text-align:center;font-size:10px;color:#2c2c2c;transform:scaleX(0.93);transform-origin:50% 0;letter-spacing:0.18px;">15,800</div>
<div class="t" style="left:574.00px;top:415.82px;width:200px;text-align:center;font-size:10px;color:#c03a3c;transform:scaleX(0.93);transform-origin:50% 0;letter-spacing:0.18px;">-2.2</div>
<div class="t" style="left:653.00px;top:415.82px;width:200px;text-align:center;font-size:10px;color:#c03a3c;transform:scaleX(0.93);transform-origin:50% 0;letter-spacing:0.18px;">-64</div>
<div class="t" style="left:460.00px;top:430.68px;width:200px;text-align:center;font-size:10px;color:#2c2c2c;transform:scaleX(0.93);transform-origin:50% 0;letter-spacing:0.18px;">DPM</div>
<div class="t" style="left:513.50px;top:430.68px;width:200px;text-align:center;font-size:10px;color:#2c2c2c;transform:scaleX(0.93);transform-origin:50% 0;letter-spacing:0.18px;">25,000</div>
<div class="t" style="left:574.00px;top:430.68px;width:200px;text-align:center;font-size:10px;color:#c03a3c;transform:scaleX(0.93);transform-origin:50% 0;letter-spacing:0.18px;">-1.0</div>
<div class="t" style="left:653.00px;top:430.68px;width:200px;text-align:center;font-size:10px;color:#c03a3c;transform:scaleX(0.93);transform-origin:50% 0;letter-spacing:0.18px;">-62</div>
<div class="t" style="left:460.00px;top:445.53px;width:200px;text-align:center;font-size:10px;color:#2c2c2c;transform:scaleX(0.93);transform-origin:50% 0;letter-spacing:0.18px;">ANV</div>
<div class="t" style="left:513.50px;top:445.53px;width:200px;text-align:center;font-size:10px;color:#2c2c2c;transform:scaleX(0.93);transform-origin:50% 0;letter-spacing:0.18px;">26,400</div>
<div class="t" style="left:574.00px;top:445.53px;width:200px;text-align:center;font-size:10px;color:#f2bf2a;transform:scaleX(0.93);transform-origin:50% 0;letter-spacing:0.18px;">0.0</div>
<div class="t" style="left:653.00px;top:445.53px;width:200px;text-align:center;font-size:10px;color:#c03a3c;transform:scaleX(0.93);transform-origin:50% 0;letter-spacing:0.18px;">-54</div>
<div style="left:530.90px;top:462.20px;width:268.30px;height:1.00px;background:#a6a6a6"></div>
<div style="left:242.60px;top:70.00px;width:1.20px;height:1.20px;background:#9a9a9a"></div>
<svg style="position:absolute;left:0;top:0;overflow:visible" width="1" height="1"><polygon points="363.8,55.8 370.1,55.8 366.95,49.0" fill="#ffffff"/><polygon points="646.0,48.8 653.3,48.8 649.65,55.8" fill="#ffffff"/></svg>
<div class="t" style="left:302.40px;top:5.06px;width:200px;text-align:center;font-size:18px;color:#1d3464;font-weight:bold;">PRE MARKET DATA</div>
<div class="t" style="left:588.30px;top:5.19px;width:200px;text-align:right;font-size:11px;color:#3a4c7a;font-style:italic;">Data as of <span style="margin-left:1px">2/13/26</span> 7:45 AM</div>
</body></html>
